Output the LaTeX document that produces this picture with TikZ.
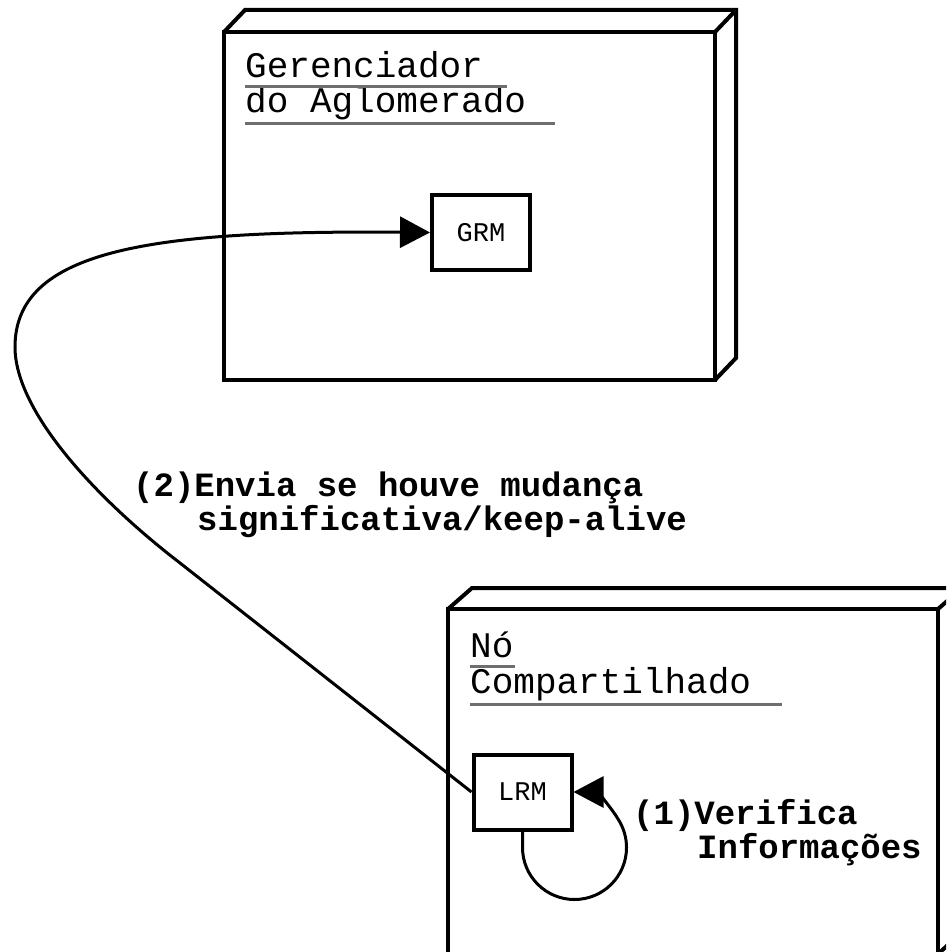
\documentclass[tikz,border=0pt]{standalone}
\usepackage{fontspec}
\newfontfamily\diagmono{Liberation Mono}
\usetikzlibrary{arrows.meta}
\begin{document}
\begin{tikzpicture}[x=1pt,y=1pt,
  frame/.style={line width=4pt, line join=miter},
  comp/.style={draw, line width=4pt, minimum width=98pt, minimum height=75pt,
    inner sep=0pt, font=\diagmono\fontsize{27}{29}\selectfont},
  title/.style={anchor=base west, inner sep=0pt,
    font=\diagmono\fontsize{36}{40}\selectfont},
  uline/.style={draw=black!57, line width=3pt},
  msg/.style={anchor=base west, inner sep=0pt, align=left,
    font=\diagmono\bfseries\fontsize{34}{31}\selectfont},
  link/.style={line width=3pt, -{Triangle[length=30pt,width=31pt]}}
]
\useasboundingbox (0,0) rectangle (946,-952);

% cluster manager box (front face, top face, side face)
\draw[frame] (224,-32) rectangle (715,-380);
\draw[frame] (224,-32) -- (245,-10) -- (736,-10) -- (736,-358) -- (715,-380);
\draw[frame] (715,-32) -- (736,-10);

\node[title] (gtitle1) at (245,-78) {Gerenciador};
\node[title] (gtitle2) at (245,-113) {do Aglomerado};
\draw[uline] (245,-87) -- (507,-87);
\draw[uline] (245,-124) -- (555,-124);

% shared node box, running off the lower right edge
\begin{scope}
\clip (0,0) rectangle (946,-952);
\draw[frame] (448,-609) rectangle (938,-954);
\draw[frame] (448,-609) -- (472,-588) -- (962,-588) -- (962,-932) -- (938,-954);
\draw[frame] (938,-609) -- (962,-588);
\end{scope}

\node[title] (ntitle1) at (470,-657) {Nó};
\node[title] (ntitle2) at (470,-693) {Compartilhado};
\draw[uline] (470,-666) -- (515,-666);
\draw[uline] (470,-704) -- (782,-704);

% components
\node[comp] (grm) at (481,-232.5) {GRM};
\node[comp] (lrm) at (522.5,-792) {LRM};

% messages
\draw[link] (lrm.west) -- (180,-563)
  .. controls (93,-496) and (15,-410) .. (15,-347)
  .. controls (15,-250) and (150,-230) .. (grm.west);
\draw[link] (lrm.south) -- ++(0,-16)
  arc[start angle=180, end angle=390, radius=52]
  to[out=120, in=0] (lrm.east);

% the base anchor of a two-line node sits on its last line
\node[msg] (send) at (133,-530)
  {(2)Envia se houve mudança\\\hspace*{64pt}significativa/keep-alive};
\node[msg] (check) at (633,-858)
  {(1)Verifica\\\hspace*{64pt}Informações};
\end{tikzpicture}
\end{document}
